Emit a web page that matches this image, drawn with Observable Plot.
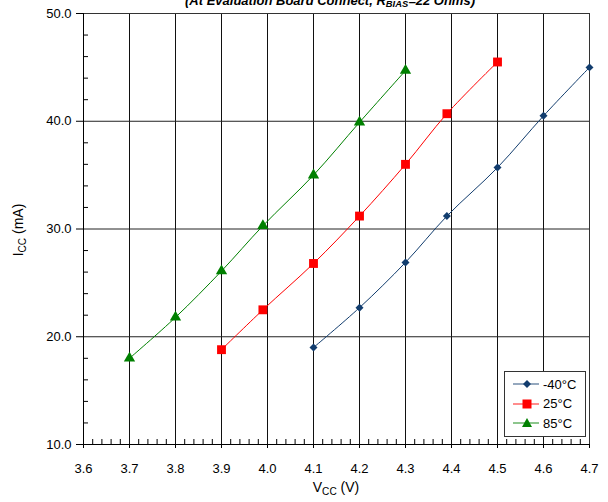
<!DOCTYPE html>
<html>
<head>
<meta charset="utf-8">
<script src="https://cdn.jsdelivr.net/npm/d3@7"></script>
<script src="https://cdn.jsdelivr.net/npm/@observablehq/plot@0.6"></script>
<style>
  body { margin: 0; background: #fff; }
  #wrap { position: relative; width: 608px; height: 502px; overflow: hidden; font-family: "Liberation Sans", Arial, sans-serif; color: #000; }
  #title { position: absolute; left: 26px; width: 608px; top: -6px; text-align: center; font-weight: bold; font-style: italic; font-size: 13px; line-height: 13px; white-space: nowrap; }
  #title sub, .lab sub { font-size: 0.72em; vertical-align: -0.25em; line-height: 0; }
  .lab { position: absolute; font-size: 14px; white-space: nowrap; line-height: 14px; }
  #ylab { left: 18px; top: 230px; transform: translate(-50%, -50%) rotate(-90deg); }
  #xlab { left: 336px; top: 480px; transform: translateX(-50%); }
  #legend { position: absolute; left: 504px; top: 371px; width: 80px; height: 64px; border: 1px solid #333; background: #fff; font-size: 13px; }
  .row { position: absolute; left: 0; height: 20px; display: flex; align-items: center; }
  .row svg { display: block; }
</style>
</head>
<body>
<div id="wrap">
  <div id="chart"></div>
  <div id="title">(At Evaluation Board Connect, R<sub>BIAS</sub>=22 Ohms)</div>
  <div class="lab" id="ylab">I<sub>CC</sub> (mA)</div>
  <div class="lab" id="xlab">V<sub>CC</sub> (V)</div>
  <div id="legend"></div>
</div>
<script>
// Data
const seriesNames = ["-40°C", "25°C", "85°C"];
const seriesColors = ["#123d6e", "#ff0000", "#008000"];
const seriesSymbols = ["diamond2", "square", "triangle"];
const seriesRadius = [3.6, 5, 4.2];

const vccNeg40 = [4.1, 4.2, 4.3, 4.39, 4.5, 4.6, 4.7];
const iccNeg40 = [19.0, 22.7, 26.9, 31.2, 35.7, 40.5, 45.0];
const vcc25 = [3.9, 3.99, 4.1, 4.2, 4.3, 4.39, 4.5];
const icc25 = [18.8, 22.5, 26.8, 31.2, 36.0, 40.7, 45.5];
const vcc85 = [3.7, 3.8, 3.9, 3.99, 4.1, 4.2, 4.3];
const icc85 = [18.0, 21.8, 26.1, 30.3, 35.0, 39.9, 44.7];

const xTicks = [3.6, 3.7, 3.8, 3.9, 4.0, 4.1, 4.2, 4.3, 4.4, 4.5, 4.6, 4.7];
const yTicks = [10, 20, 30, 40, 50];
const yGrid = [20, 30, 40];

const xs = [vccNeg40, vcc25, vcc85];
const ys = [iccNeg40, icc25, icc85];
const data = seriesNames.flatMap((s, i) => xs[i].map((x, j) => ({series: s, vcc: x, icc: ys[i][j]})));

const xMinor = d3.range(0, 56).map(i => 3.6 + i * 0.02).filter((v, i) => i % 5 !== 0);
const yMinor = d3.range(10, 50, 2).filter(v => v % 10 !== 0);

const W = 608, H = 502, ML = 83, MR = 19, MT = 13, MB = 58;
const innerW = W - ML - MR, innerH = H - MT - MB;

const chart = Plot.plot({
  width: W, height: H,
  marginLeft: ML, marginRight: MR, marginTop: MT, marginBottom: MB,
  x: {domain: [3.6, 4.7]},
  y: {domain: [10, 50]},
  style: {fontFamily: "'Liberation Sans', Arial, sans-serif", fontSize: "13px", color: "#000", background: "#fff", overflow: "visible"},
  marks: [
    Plot.gridX(xTicks, {stroke: "#111", strokeOpacity: 1, strokeWidth: 1}),
    Plot.gridY(yGrid, {stroke: "#222", strokeOpacity: 1, strokeWidth: 1}),
    Plot.tickX(xMinor, {x: d => d, insetTop: innerH - 5, stroke: "#000"}),
    Plot.tickY(yMinor, {y: d => d, insetRight: innerW - 5, stroke: "#000"}),
    Plot.frame({stroke: "#333"}),
    Plot.ruleX([3.6], {stroke: "#000"}),
    Plot.ruleY([10], {stroke: "#000"}),
    Plot.axisX({ticks: xTicks, tickFormat: d3.format(".1f"), tickSize: 4, tickPadding: 15, label: null, fontSize: 13}),
    Plot.axisY({ticks: yTicks, tickFormat: d3.format(".1f"), tickSize: 7, tickPadding: 5, label: null, fontSize: 13}),
    ...seriesNames.flatMap((s, i) => {
      const d = data.filter(r => r.series === s);
      return [
        Plot.line(d, {x: "vcc", y: "icc", stroke: seriesColors[i], strokeWidth: 1, curve: "catmull-rom"}),
        Plot.dot(d, {x: "vcc", y: "icc", symbol: () => seriesSymbols[i], fill: seriesColors[i], stroke: "none", r: seriesRadius[i]})
      ];
    })
  ]
});
document.getElementById("chart").appendChild(chart);

// Legend
const legend = document.getElementById("legend");
const symPaths = {
  "diamond2": "M0,-4L4,0L0,4L-4,0Z",
  "square": "M-4.5,-4.5H4.5V4.5H-4.5Z",
  "triangle": "M0,-5L5,4L-5,4Z"
};
seriesNames.forEach((s, i) => {
  const row = document.createElement("div");
  row.className = "row";
  row.style.top = (2 + i * 19.5) + "px";
  row.innerHTML = `<svg width="38" height="20"><line x1="8" x2="34" y1="10" y2="10" stroke="${seriesColors[i]}" stroke-opacity="0.6" stroke-width="1.5"/><path transform="translate(22,10)" d="${symPaths[seriesSymbols[i]]}" fill="${seriesColors[i]}"/></svg><span>${s}</span>`;
  legend.appendChild(row);
});
</script>
</body>
</html>
